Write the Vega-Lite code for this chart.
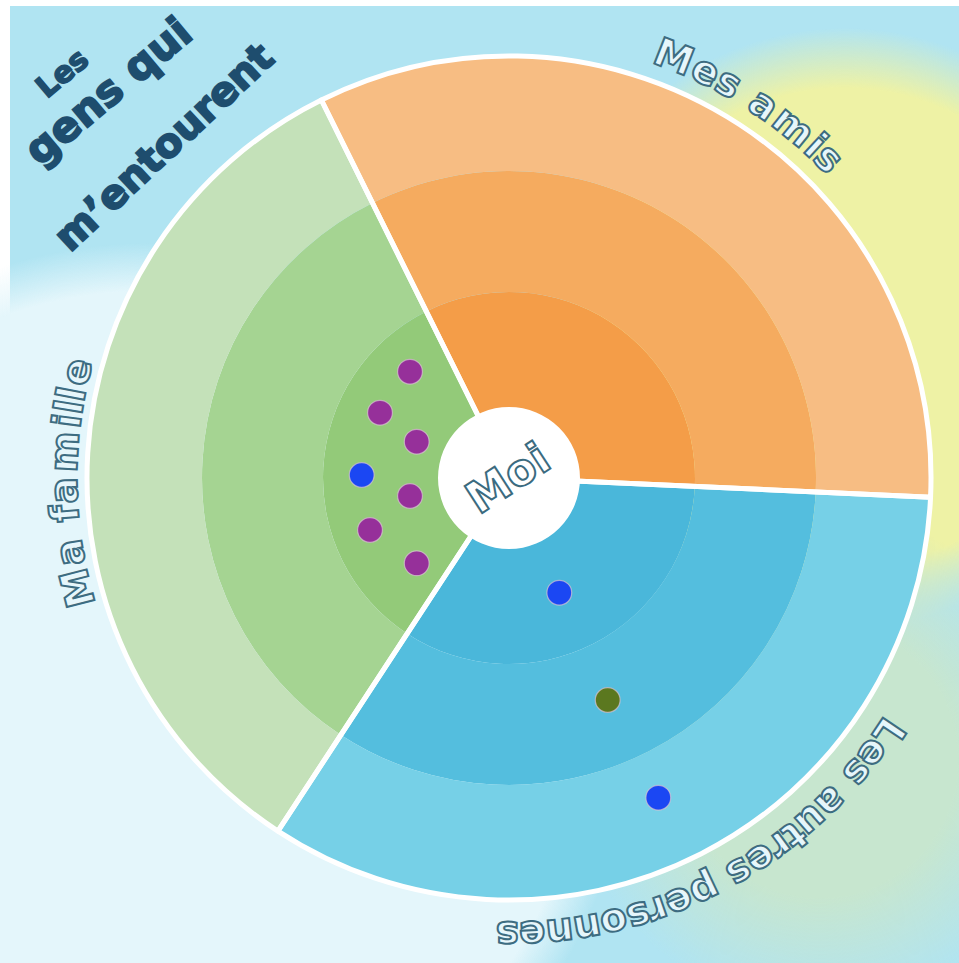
{
  "$schema": "https://vega.github.io/schema/vega-lite/v6.json",
  "width": 959,
  "height": 963,
  "padding": 0,
  "autosize": {"type": "none", "contains": "padding"},
  "background": "#ffffff",
  "config": {"view": {"stroke": null}},
  "datasets": {
    "fond": [{"zone": "fond"}],
    "halo_blanc": [{"nom": "halo blanc", "cx": -359, "cy": -245, "r": 480}],
    "halo_jaune": [{"nom": "halo jaune", "cx": 336, "cy": 150, "r": 300}],
    "halo_vert": [{"nom": "halo vert", "cx": 311, "cy": -282, "r": 250}],
    "anneaux": [
      {"secteur": "Mes amis", "zone": "amis-1", "t0": -26.4, "t1": 92.6, "r0": 0, "r1": 186},
      {"secteur": "Mes amis", "zone": "amis-2", "t0": -26.4, "t1": 92.6, "r0": 186, "r1": 307},
      {"secteur": "Mes amis", "zone": "amis-3", "t0": -26.4, "t1": 92.6, "r0": 307, "r1": 422},
      {"secteur": "Les autres personnes", "zone": "autres-1", "t0": 92.6, "t1": 213.2, "r0": 0, "r1": 186},
      {"secteur": "Les autres personnes", "zone": "autres-2", "t0": 92.6, "t1": 213.2, "r0": 186, "r1": 307},
      {"secteur": "Les autres personnes", "zone": "autres-3", "t0": 92.6, "t1": 213.2, "r0": 307, "r1": 422},
      {"secteur": "Ma famille", "zone": "famille-1", "t0": 213.2, "t1": 333.6, "r0": 0, "r1": 186},
      {"secteur": "Ma famille", "zone": "famille-2", "t0": 213.2, "t1": 333.6, "r0": 186, "r1": 307},
      {"secteur": "Ma famille", "zone": "famille-3", "t0": 213.2, "t1": 333.6, "r0": 307, "r1": 422}
    ],
    "secteurs": [
      {"secteur": "Mes amis", "t0": -26.4, "t1": 92.6, "r": 422},
      {"secteur": "Les autres personnes", "t0": 92.6, "t1": 213.2, "r": 422},
      {"secteur": "Ma famille", "t0": 213.2, "t1": 333.6, "r": 422}
    ],
    "moi": [{"texte": "Moi", "r": 71}],
    "personnes": [
      {"type": "A", "x": -99, "y": 106.3},
      {"type": "A", "x": -129, "y": 65.3},
      {"type": "A", "x": -92.3, "y": 36.3},
      {"type": "B", "x": -147.3, "y": 3},
      {"type": "A", "x": -99, "y": -18},
      {"type": "A", "x": -139, "y": -52},
      {"type": "A", "x": -92.3, "y": -85.3},
      {"type": "B", "x": 50.3, "y": -114.7},
      {"type": "C", "x": 98.7, "y": -222},
      {"type": "B", "x": 149.3, "y": -319.7}
    ],
    "lettres": [
      {"etiquette": "Mes amis", "lettre": "M", "theta": 21.4, "r": 451},
      {"etiquette": "Mes amis", "lettre": "e", "theta": 25.8, "r": 451},
      {"etiquette": "Mes amis", "lettre": "s", "theta": 29.1, "r": 451},
      {"etiquette": "Mes amis", "lettre": "a", "theta": 34.3, "r": 451},
      {"etiquette": "Mes amis", "lettre": "m", "theta": 39.0, "r": 451},
      {"etiquette": "Mes amis", "lettre": "i", "theta": 42.7, "r": 451},
      {"etiquette": "Mes amis", "lettre": "s", "theta": 45.0, "r": 451},
      {"etiquette": "Ma famille", "lettre": "M", "theta": 255.7, "r": 444},
      {"etiquette": "Ma famille", "lettre": "a", "theta": 260.35, "r": 444},
      {"etiquette": "Ma famille", "lettre": "f", "theta": 265.4, "r": 444},
      {"etiquette": "Ma famille", "lettre": "a", "theta": 268.4, "r": 444},
      {"etiquette": "Ma famille", "lettre": "m", "theta": 273.4, "r": 444},
      {"etiquette": "Ma famille", "lettre": "i", "theta": 277.4, "r": 444},
      {"etiquette": "Ma famille", "lettre": "l", "theta": 279.2, "r": 444},
      {"etiquette": "Ma famille", "lettre": "l", "theta": 280.9, "r": 444},
      {"etiquette": "Ma famille", "lettre": "e", "theta": 283.8, "r": 444},
      {"etiquette": "Les autres personnes", "lettre": "L", "theta": 123.8, "r": 456},
      {"etiquette": "Les autres personnes", "lettre": "e", "theta": 127.1, "r": 456},
      {"etiquette": "Les autres personnes", "lettre": "s", "theta": 130.2, "r": 456},
      {"etiquette": "Les autres personnes", "lettre": "a", "theta": 135.2, "r": 456},
      {"etiquette": "Les autres personnes", "lettre": "u", "theta": 138.6, "r": 456},
      {"etiquette": "Les autres personnes", "lettre": "t", "theta": 141.4, "r": 456},
      {"etiquette": "Les autres personnes", "lettre": "r", "theta": 143.6, "r": 456},
      {"etiquette": "Les autres personnes", "lettre": "e", "theta": 146.5, "r": 456},
      {"etiquette": "Les autres personnes", "lettre": "s", "theta": 149.7, "r": 456},
      {"etiquette": "Les autres personnes", "lettre": "p", "theta": 154.6, "r": 456},
      {"etiquette": "Les autres personnes", "lettre": "e", "theta": 158.1, "r": 456},
      {"etiquette": "Les autres personnes", "lettre": "r", "theta": 161.0, "r": 456},
      {"etiquette": "Les autres personnes", "lettre": "s", "theta": 163.5, "r": 456},
      {"etiquette": "Les autres personnes", "lettre": "o", "theta": 166.7, "r": 456},
      {"etiquette": "Les autres personnes", "lettre": "n", "theta": 170.1, "r": 456},
      {"etiquette": "Les autres personnes", "lettre": "n", "theta": 173.6, "r": 456},
      {"etiquette": "Les autres personnes", "lettre": "e", "theta": 177.1, "r": 456},
      {"etiquette": "Les autres personnes", "lettre": "s", "theta": 180.2, "r": 456}
    ],
    "titre1": [{"texte": "Les", "x": -446, "y": 404}],
    "titre2": [{"texte": "gens qui", "x": -400, "y": 386}],
    "titre3": [{"texte": "m’entourent", "x": -344, "y": 330}]
  },
  "layer": [
    {
      "data": {"name": "fond"},
      "mark": {"type": "rect", "fill": "#B0E4F2"},
      "encoding": {
        "x": {"datum": -499, "type": "quantitative", "scale": {"domain": [-509, 450], "nice": false, "zero": false}, "axis": null},
        "x2": {"datum": 450},
        "y": {"datum": 472, "type": "quantitative", "scale": {"domain": [-485, 478], "nice": false, "zero": false}, "axis": null},
        "y2": {"datum": -485}
      }
    },
    {
      "data": {"name": "halo_blanc"},
      "mark": {"type": "arc", "clip": true, "fill": {"gradient": "radial", "x1": 0.5, "y1": 0.5, "r1": 0, "x2": 0.5, "y2": 0.5, "r2": 0.5, "stops": [{"offset": 0, "color": "#E4F6FB"}, {"offset": 0.9, "color": "#E4F6FB"}, {"offset": 1, "color": "rgba(228,246,251,0)"}]}},
      "encoding": {
        "x": {"field": "cx", "type": "quantitative", "scale": {"domain": [-509, 450], "nice": false, "zero": false}, "axis": null},
        "y": {"field": "cy", "type": "quantitative", "scale": {"domain": [-485, 478], "nice": false, "zero": false}, "axis": null},
        "theta": {"datum": 0, "type": "quantitative", "scale": {"domain": [0, 360], "range": [0, 6.283185307]}},
        "theta2": {"datum": 360},
        "radius": {"field": "r", "type": "quantitative", "scale": {"type": "linear", "domain": [0, 500], "range": [0, 500], "zero": true, "nice": false}}
      }
    },
    {
      "data": {"name": "halo_jaune"},
      "mark": {"type": "arc", "clip": true, "fill": {"gradient": "radial", "x1": 0.5, "y1": 0.5, "r1": 0, "x2": 0.5, "y2": 0.5, "r2": 0.5, "stops": [{"offset": 0, "color": "#EEF2A5"}, {"offset": 0.8, "color": "#EEF2A5"}, {"offset": 1, "color": "rgba(238,242,165,0)"}]}},
      "encoding": {
        "x": {"field": "cx", "type": "quantitative", "scale": {"domain": [-509, 450], "nice": false, "zero": false}, "axis": null},
        "y": {"field": "cy", "type": "quantitative", "scale": {"domain": [-485, 478], "nice": false, "zero": false}, "axis": null},
        "theta": {"datum": 0, "type": "quantitative", "scale": {"domain": [0, 360], "range": [0, 6.283185307]}},
        "theta2": {"datum": 360},
        "radius": {"field": "r", "type": "quantitative", "scale": {"type": "linear", "domain": [0, 500], "range": [0, 500], "zero": true, "nice": false}}
      }
    },
    {
      "data": {"name": "halo_vert"},
      "mark": {"type": "arc", "clip": true, "fill": {"gradient": "radial", "x1": 0.5, "y1": 0.5, "r1": 0, "x2": 0.5, "y2": 0.5, "r2": 0.5, "stops": [{"offset": 0, "color": "#C7E6CF"}, {"offset": 0.55, "color": "#C7E6CF"}, {"offset": 1, "color": "rgba(199,230,207,0)"}]}},
      "encoding": {
        "x": {"field": "cx", "type": "quantitative", "scale": {"domain": [-509, 450], "nice": false, "zero": false}, "axis": null},
        "y": {"field": "cy", "type": "quantitative", "scale": {"domain": [-485, 478], "nice": false, "zero": false}, "axis": null},
        "theta": {"datum": 0, "type": "quantitative", "scale": {"domain": [0, 360], "range": [0, 6.283185307]}},
        "theta2": {"datum": 360},
        "radius": {"field": "r", "type": "quantitative", "scale": {"type": "linear", "domain": [0, 500], "range": [0, 500], "zero": true, "nice": false}}
      }
    },
    {
      "data": {"name": "anneaux"},
      "mark": {"type": "arc"},
      "encoding": {
        "x": {"datum": 0, "type": "quantitative", "scale": {"domain": [-509, 450], "nice": false, "zero": false}, "axis": null},
        "y": {"datum": 0, "type": "quantitative", "scale": {"domain": [-485, 478], "nice": false, "zero": false}, "axis": null},
        "theta": {"field": "t0", "type": "quantitative", "stack": null, "scale": {"domain": [0, 360], "range": [0, 6.283185307]}},
        "theta2": {"field": "t1"},
        "radius": {"field": "r1", "type": "quantitative", "scale": {"type": "linear", "domain": [0, 500], "range": [0, 500], "zero": true, "nice": false}},
        "radius2": {"field": "r0"},
        "fill": {"field": "zone", "type": "nominal", "legend": null, "scale": {
          "domain": ["amis-1", "amis-2", "amis-3", "autres-1", "autres-2", "autres-3", "famille-1", "famille-2", "famille-3"],
          "range": ["#F49D48", "#F5AB5F", "#F7BD83", "#4AB7DA", "#54BEDE", "#76D0E7", "#93CA79", "#A5D492", "#C4E1B9"]}}
      }
    },
    {
      "data": {"name": "secteurs"},
      "mark": {"type": "arc", "filled": false, "stroke": "#ffffff", "strokeWidth": 5, "strokeJoin": "round"},
      "encoding": {
        "x": {"datum": 0, "type": "quantitative", "scale": {"domain": [-509, 450], "nice": false, "zero": false}, "axis": null},
        "y": {"datum": 0, "type": "quantitative", "scale": {"domain": [-485, 478], "nice": false, "zero": false}, "axis": null},
        "theta": {"field": "t0", "type": "quantitative", "stack": null, "scale": {"domain": [0, 360], "range": [0, 6.283185307]}},
        "theta2": {"field": "t1"},
        "radius": {"field": "r", "type": "quantitative", "scale": {"type": "linear", "domain": [0, 500], "range": [0, 500], "zero": true, "nice": false}}
      }
    },
    {
      "data": {"name": "moi"},
      "mark": {"type": "arc", "fill": "#ffffff"},
      "encoding": {
        "x": {"datum": 0, "type": "quantitative", "scale": {"domain": [-509, 450], "nice": false, "zero": false}, "axis": null},
        "y": {"datum": 0, "type": "quantitative", "scale": {"domain": [-485, 478], "nice": false, "zero": false}, "axis": null},
        "theta": {"datum": 0, "type": "quantitative", "scale": {"domain": [0, 360], "range": [0, 6.283185307]}},
        "theta2": {"datum": 360},
        "radius": {"field": "r", "type": "quantitative", "scale": {"type": "linear", "domain": [0, 500], "range": [0, 500], "zero": true, "nice": false}}
      }
    },
    {
      "data": {"name": "personnes"},
      "mark": {"type": "circle", "size": 616, "opacity": 1, "stroke": "#d8c3d3", "strokeWidth": 1.2, "strokeOpacity": 0.7},
      "encoding": {
        "x": {"field": "x", "type": "quantitative", "scale": {"domain": [-509, 450], "nice": false, "zero": false}, "axis": null},
        "y": {"field": "y", "type": "quantitative", "scale": {"domain": [-485, 478], "nice": false, "zero": false}, "axis": null},
        "color": {"field": "type", "type": "nominal", "legend": null, "scale": {"domain": ["A", "B", "C"], "range": ["#96309A", "#1B47F3", "#5B781F"]}}
      }
    },
    {
      "data": {"name": "moi"},
      "mark": {"type": "text", "font": "DejaVu Sans", "fontWeight": "bold", "fontSize": 44, "angle": -33, "fill": "#ffffff", "stroke": "#3B6B80", "strokeWidth": 2, "align": "center", "baseline": "middle"},
      "encoding": {
        "x": {"datum": 0, "type": "quantitative", "scale": {"domain": [-509, 450], "nice": false, "zero": false}, "axis": null},
        "y": {"datum": -2, "type": "quantitative", "scale": {"domain": [-485, 478], "nice": false, "zero": false}, "axis": null},
        "text": {"field": "texte"}
      }
    },
    {
      "data": {"name": "lettres"},
      "mark": {"type": "text", "font": "DejaVu Sans", "fontWeight": "bold", "fontSize": 39, "fill": "#E6F6FB", "stroke": "#3D6C81", "strokeWidth": 2, "align": "center", "baseline": "middle"},
      "encoding": {
        "x": {"datum": 0, "type": "quantitative", "scale": {"domain": [-509, 450], "nice": false, "zero": false}, "axis": null},
        "y": {"datum": 0, "type": "quantitative", "scale": {"domain": [-485, 478], "nice": false, "zero": false}, "axis": null},
        "theta": {"field": "theta", "type": "quantitative", "scale": {"domain": [0, 360], "range": [0, 6.283185307]}},
        "radius": {"field": "r", "type": "quantitative", "scale": {"type": "linear", "domain": [0, 500], "range": [0, 500], "zero": true, "nice": false}},
        "angle": {"field": "theta", "type": "quantitative", "scale": {"domain": [0, 360], "range": [0, 360]}},
        "text": {"field": "lettre"}
      }
    },
    {
      "data": {"name": "titre1"},
      "mark": {"type": "text", "font": "DejaVu Sans", "fontWeight": "bold", "fontSize": 30, "angle": -40, "fill": "#1E4D6E", "stroke": "#1E4D6E", "strokeWidth": 1.5, "align": "center", "baseline": "middle"},
      "encoding": {
        "x": {"field": "x", "type": "quantitative", "scale": {"domain": [-509, 450], "nice": false, "zero": false}, "axis": null},
        "y": {"field": "y", "type": "quantitative", "scale": {"domain": [-485, 478], "nice": false, "zero": false}, "axis": null},
        "text": {"field": "texte"}
      }
    },
    {
      "data": {"name": "titre2"},
      "mark": {"type": "text", "font": "DejaVu Sans", "fontWeight": "bold", "fontSize": 42, "angle": -40, "fill": "#1E4D6E", "stroke": "#1E4D6E", "strokeWidth": 2, "align": "center", "baseline": "middle"},
      "encoding": {
        "x": {"field": "x", "type": "quantitative", "scale": {"domain": [-509, 450], "nice": false, "zero": false}, "axis": null},
        "y": {"field": "y", "type": "quantitative", "scale": {"domain": [-485, 478], "nice": false, "zero": false}, "axis": null},
        "text": {"field": "texte"}
      }
    },
    {
      "data": {"name": "titre3"},
      "mark": {"type": "text", "font": "DejaVu Sans", "fontWeight": "bold", "fontSize": 40, "angle": -43, "fill": "#1E4D6E", "stroke": "#1E4D6E", "strokeWidth": 2, "align": "center", "baseline": "middle"},
      "encoding": {
        "x": {"field": "x", "type": "quantitative", "scale": {"domain": [-509, 450], "nice": false, "zero": false}, "axis": null},
        "y": {"field": "y", "type": "quantitative", "scale": {"domain": [-485, 478], "nice": false, "zero": false}, "axis": null},
        "text": {"field": "texte"}
      }
    }
  ]
}
